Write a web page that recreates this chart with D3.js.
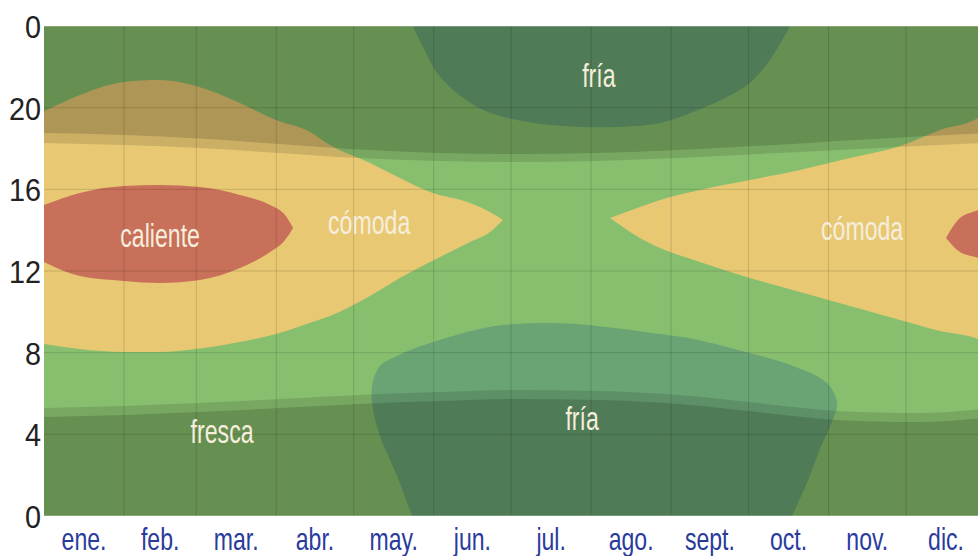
<!DOCTYPE html>
<html>
<head>
<meta charset="utf-8">
<script src="https://cdn.jsdelivr.net/npm/d3@7"></script>
<style>
  body { margin: 0; background: #fff; }
  text { font-family: "Liberation Sans", Arial, sans-serif; }
</style>
</head>
<body>
<div id="container"></div>
<script>
/* CONSTANTS AND GLOBALS */
const width = 978,
  height = 556,
  margin = { top: 26, bottom: 40, left: 44, right: -8 };

/* DATA (day of year, hour of day) */
const months = ["ene.", "feb.", "mar.", "abr.", "may.", "jun.", "jul.", "ago.", "sept.", "oct.", "nov.", "dic."];
const monthStart = [0, 31, 59, 90, 120, 151, 181, 212, 243, 273, 304, 334, 365];
const hourTicks = [0, 4, 8, 12, 16, 20, 24];
const hourLabels = ["0", "4", "8", "12", "16", "20", "0"];

// cómoda band, first half of the year
const comodaLeftDays = [0, 13.9, 31.0, 44.9, 58.9, 75.9, 89.9, 103.1, 110.8, 126.3, 137.9, 149.6, 165.1, 172.8, 177.8];
const comodaLeftLow  = [8.42, 8.18, 8.03, 8.03, 8.18, 8.52, 8.91, 9.46, 9.80, 10.78, 11.66, 12.44, 13.42, 13.91, 14.50];
const comodaLeftHigh = [19.82, 20.62, 21.26, 21.35, 21.06, 20.23, 19.39, 18.81, 18.17, 17.29, 16.56, 15.87, 15.33, 14.89, 14.50];

// cómoda band, end of the year
const comodaRightDays = [219.3, 230.9, 238.7, 254.2, 273.5, 292.9, 312.3, 331.7, 347.2, 361.9, 365];
const comodaRightLow  = [14.60, 13.62, 13.13, 12.44, 11.66, 10.97, 10.29, 9.60, 9.06, 8.67, 8.45];
const comodaRightHigh = [14.60, 15.13, 15.48, 15.97, 16.46, 16.95, 17.53, 18.12, 18.91, 19.49, 19.78];

// caliente
const calienteLeftDays = [0, 13.9, 31.0, 44.9, 60.4, 75.9, 87.6, 93.4, 96.5];
const calienteLeftLow  = [12.44, 11.75, 11.51, 11.41, 11.56, 12.15, 12.93, 13.52, 14.11];
const calienteLeftHigh = [15.23, 15.82, 16.16, 16.21, 16.11, 15.72, 15.23, 14.74, 14.11];
const calienteRightDays = [349.5, 354.9, 361.9, 365];
const calienteRightLow  = [13.62, 12.93, 12.64, 12.46];
const calienteRightHigh = [13.62, 14.60, 14.99, 15.20];

// fría blobs (outline points)
const friaLowDays  = [142.6, 136.8, 130.2, 127.5, 127.1, 130.2, 136.8, 149.6, 168.9, 181.7, 198.8, 214.3, 238.7, 251.5, 273.5, 290.2, 303.4, 307.3, 305.7, 300.7, 295.6, 289.8];
const friaLowHours = [0, 1.96, 3.92, 5.24, 6.37, 7.35, 7.84, 8.47, 9.16, 9.40, 9.45, 9.31, 8.91, 8.67, 7.98, 7.35, 6.51, 5.53, 4.75, 3.28, 1.62, 0];
const friaHighDays  = [143.0, 146.9, 152.3, 160.0, 170.1, 183.3, 201.1, 220.5, 238.7, 251.5, 264.6, 273.5, 281.3, 289.1];
const friaHighHours = [24, 22.97, 21.70, 20.72, 19.89, 19.40, 19.10, 19.05, 19.25, 19.79, 20.52, 21.21, 22.34, 24];

// daylight
const sunDays = [0, 31, 60, 91, 122, 153, 184, 215, 246, 277, 308, 339, 365];
const dawn    = [4.85, 4.95, 5.09, 5.29, 5.49, 5.63, 5.73, 5.68, 5.49, 5.09, 4.70, 4.60, 4.81];
const sunrise = [5.29, 5.39, 5.53, 5.73, 5.93, 6.07, 6.17, 6.12, 5.93, 5.53, 5.14, 5.04, 5.25];
const sunset  = [18.27, 18.17, 18.02, 17.78, 17.53, 17.39, 17.34, 17.39, 17.53, 17.73, 17.93, 18.12, 18.27];
const dusk    = [18.76, 18.66, 18.49, 18.22, 17.95, 17.78, 17.73, 17.78, 17.93, 18.13, 18.37, 18.59, 18.76];

// labels
const bandLabels = ["caliente", "cómoda", "fría", "cómoda", "fresca", "fría"];
const bandLabelDays = [45, 126, 215, 317, 69, 208.5];
const bandLabelHours = [13.2, 13.8, 21.0, 13.5, 3.6, 4.2];

/* SCALES */
const xScale = d3.scaleLinear().domain([0, 365]).range([margin.left, width - margin.right]);
const yScale = d3.scaleLinear().domain([0, 24]).range([height - margin.bottom, margin.top]);

const svg = d3.select("#container")
  .append("svg")
  .attr("width", width)
  .attr("height", height);

svg.append("clipPath").attr("id", "plot")
  .append("rect")
  .attr("x", margin.left).attr("y", margin.top)
  .attr("width", width - margin.left).attr("height", yScale(0) - margin.top);

const g = svg.append("g").attr("clip-path", "url(#plot)");

const band = d3.area()
  .x(d => xScale(d[0]))
  .y0(d => yScale(d[1]))
  .y1(d => yScale(d[2]))
  .curve(d3.curveMonotoneX);

const zip3 = (a, b, c) => a.map((v, i) => [v, b[i], c[i]]);
const blob = d3.line().x(d => xScale(d[0])).y(d => yScale(d[1])).curve(d3.curveCatmullRom);

// base: fresca
g.append("rect")
  .attr("x", margin.left).attr("y", margin.top)
  .attr("width", width - margin.left).attr("height", yScale(0) - margin.top)
  .attr("fill", "#88bf6e");

g.append("path").datum(zip3(comodaLeftDays, comodaLeftLow, comodaLeftHigh)).attr("d", band).attr("fill", "#e8c873");
g.append("path").datum(zip3(comodaRightDays, comodaRightLow, comodaRightHigh)).attr("d", band).attr("fill", "#e8c873");
g.append("path").datum(zip3(calienteLeftDays, calienteLeftLow, calienteLeftHigh)).attr("d", band).attr("fill", "#c8705a");
g.append("path").datum(zip3(calienteRightDays, calienteRightLow, calienteRightHigh)).attr("d", band).attr("fill", "#c8705a");

g.append("path").attr("d", blob(friaLowDays.map((d, i) => [d, friaLowHours[i]])) + "Z").attr("fill", "#6aa475");
g.append("path").attr("d", blob(friaHighDays.map((d, i) => [d, friaHighHours[i]])) + "Z").attr("fill", "#6aa475");

// night + twilight shading
const zeros = sunDays.map(() => 0), full = sunDays.map(() => 24);
const shade = [
  [zeros, dawn, 0.25], [dawn, sunrise, 0.12],
  [sunset, dusk, 0.12], [dusk, full, 0.25]
];
shade.forEach(([lo, hi, a]) => {
  g.append("path")
    .datum(zip3(sunDays, lo, hi))
    .attr("d", band)
    .attr("fill", "#000")
    .attr("fill-opacity", a);
});

// grid
g.selectAll(".vgrid")
  .data(monthStart.slice(1, -1))
  .join("line")
  .attr("x1", d => xScale(d)).attr("x2", d => xScale(d))
  .attr("y1", margin.top).attr("y2", yScale(0))
  .attr("stroke", "#000").attr("stroke-opacity", 0.14);

g.selectAll(".hgrid")
  .data(hourTicks.slice(1, -1))
  .join("line")
  .attr("x1", margin.left).attr("x2", width)
  .attr("y1", d => yScale(d)).attr("y2", d => yScale(d))
  .attr("stroke", "#000").attr("stroke-opacity", 0.14);

// light frame top/bottom
[0, 24].forEach(h => {
  svg.append("line")
    .attr("x1", margin.left).attr("x2", width)
    .attr("y1", yScale(h)).attr("y2", yScale(h))
    .attr("stroke", "#fff").attr("stroke-opacity", 0.45);
});

// band labels
bandLabels.forEach((t, i) => {
  svg.append("text")
    .attr("transform", `translate(${xScale(bandLabelDays[i])},${yScale(bandLabelHours[i])}) scale(0.68,1)`)
    .attr("text-anchor", "middle")
    .attr("font-size", 34)
    .attr("fill", "#f6eedc")
    .text(t);
});

// month labels
months.forEach((m, i) => {
  const mid = (monthStart[i] + monthStart[i + 1]) / 2;
  svg.append("text")
    .attr("transform", `translate(${xScale(mid)},550) scale(0.72,1)`)
    .attr("text-anchor", "middle")
    .attr("font-size", 32)
    .attr("fill", "#2a3b9c")
    .text(m);
});

// hour labels
hourTicks.forEach((h, i) => {
  svg.append("text")
    .attr("transform", `translate(41,${yScale(h) + 12}) scale(0.9,1)`)
    .attr("text-anchor", "end")
    .attr("font-size", 32)
    .attr("fill", "#222")
    .text(hourLabels[i]);
});
</script>
</body>
</html>
